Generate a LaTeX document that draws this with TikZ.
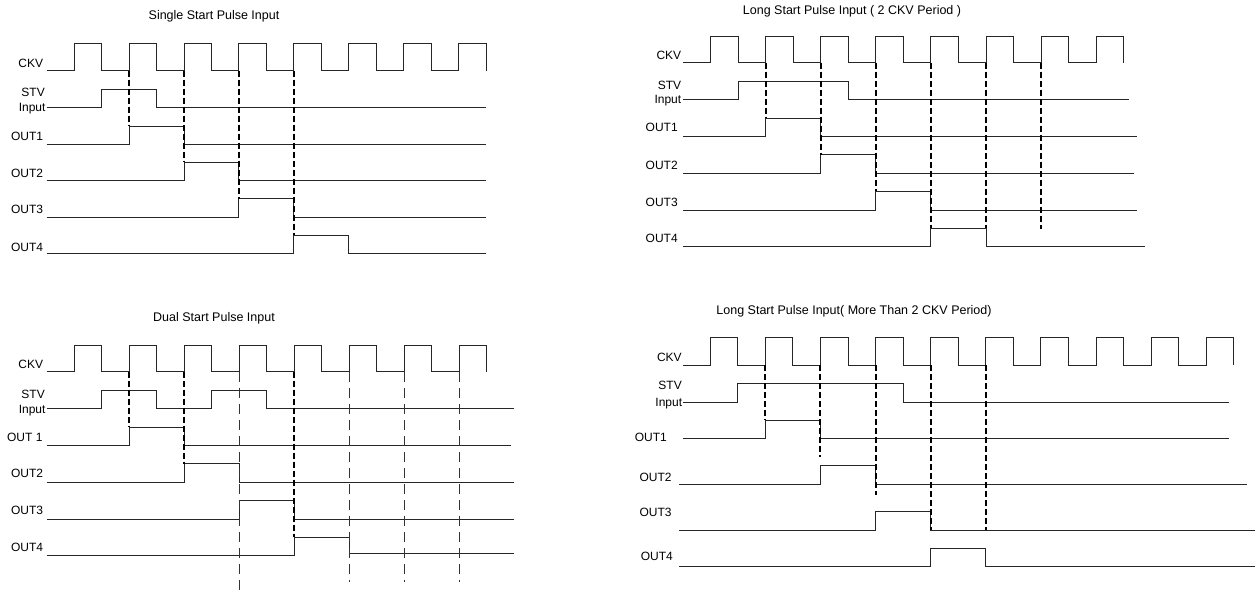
\documentclass[tikz,border=0pt]{standalone}
\usepackage{fontspec}
\setmainfont{Liberation Sans}
\begin{document}
\begin{tikzpicture}[x=1pt,y=-1pt,
  senal/.style={line width=0.9pt, black!85},
  guia/.style={line width=2pt, dash pattern=on 6pt off 3pt},
  guiafina/.style={line width=0.8pt, black!80, dash pattern=on 10pt off 6pt},
  etiq/.style={anchor=east, inner sep=0pt, text height=8.6pt, text depth=0pt,
    font=\fontsize{12}{14}\selectfont},
  titulo/.style={inner sep=0pt, text height=8.6pt, text depth=0pt,
    font=\fontsize{12.5}{14}\selectfont}]

\useasboundingbox (0,0) rectangle (1255,595);

% Títulos
\node[titulo] (tit1) at (214,15) {Single Start Pulse Input};
\node[titulo] (tit2) at (852,10) {Long Start Pulse Input ( 2 CKV Period )};
\node[titulo] (tit3) at (214,317.3) {Dual Start Pulse Input};
\node[titulo] (tit4) at (854,310) {Long Start Pulse Input( More Than 2 CKV Period)};

% Panel 1: pulso simple
\begin{scope}[shift={(46.7pt,-70.7pt)}, x=27.46pt]
\node[etiq, xshift=-3.4pt] (ckvA) at (0,-7.7) {CKV};
\node[etiq, xshift=-1.7pt] (stvA) at (0,21.3) {STV};
\node[etiq, xshift=-1pt] (inpA) at (0,36.3) {Input};
\node[etiq, xshift=-3.4pt] (outA1) at (0,65.3) {OUT1};
\node[etiq, xshift=-3.4pt] (outA2) at (0,102) {OUT2};
\node[etiq, xshift=-3.4pt] (outA3) at (0,138.3) {OUT3};
\node[etiq, xshift=-3.4pt] (outA4) at (0,176) {OUT4};
\draw[senal] (0,0) \foreach \k in {1,3,...,15} {-- (\k,0) -- (\k,-27.4) -- (\k+1,-27.4) -- (\k+1,0)};
\draw[senal] (0,36.6) -- (2,36.6) -- (2,18.6) -- (4,18.6) -- (4,36.6) -- (16,36.6);
\draw[senal] (0,73.3) -- (3,73.3) -- (3,55.3) -- (5,55.3) -- (5,73.3) -- (16,73.3);
\draw[senal] (0,109.6) -- (5,109.6) -- (5,91.6) -- (7,91.6) -- (7,109.6) -- (16,109.6);
\draw[senal] (0,146.3) -- (7,146.3) -- (7,128) -- (9,128) -- (9,146.3) -- (16,146.3);
\draw[senal] (0,182.6) -- (9,182.6) -- (9,164.3) -- (11,164.3) -- (11,182.6) -- (16,182.6);
\draw[guia] (3,0) -- (3,55.3);
\draw[guia] (5,0) -- (5,91.6);
\draw[guia] (7,0) -- (7,128);
\draw[guia] (9,0) -- (9,164.3);
\end{scope}

% Panel 2: pulso largo (2 periodos)
\begin{scope}[shift={(682.9pt,-62.7pt)}, x=27.55pt]
\node[etiq, xshift=-1.5pt] (ckvB) at (0,-7.7) {CKV};
\node[etiq, xshift=-1.5pt] (stvB) at (0,22.3) {STV};
\node[etiq, xshift=-1.5pt] (inpB) at (0,36.6) {Input};
\node[etiq, xshift=-5pt] (outB1) at (0,64.6) {OUT1};
\node[etiq, xshift=-5pt] (outB2) at (0,102) {OUT2};
\node[etiq, xshift=-5pt] (outB3) at (0,139) {OUT3};
\node[etiq, xshift=-5pt] (outB4) at (0,175.6) {OUT4};
\draw[senal] (0,0) \foreach \k in {1,3,...,15} {-- (\k,0) -- (\k,-26.7) -- (\k+1,-26.7) -- (\k+1,0)};
\draw[senal] (0,36.6) -- (2,36.6) -- (2,18.6) -- (6,18.6) -- (6,36.6) -- (16.18,36.6);
\draw[senal] (0,73.6) -- (3,73.6) -- (3,55.3) -- (5,55.3) -- (5,73.6) -- (16.5,73.6);
\draw[senal] (0,110.3) -- (5,110.3) -- (5,92) -- (7,92) -- (7,110.3) -- (16.37,110.3);
\draw[senal] (0,147.3) -- (7,147.3) -- (7,128.6) -- (9,128.6) -- (9,147.3) -- (16.5,147.3);
\draw[senal] (0,184) -- (9,184) -- (9,165.6) -- (11,165.6) -- (11,184) -- (16.79,184);
\draw[guia] (3,0) -- (3,55.3);
\draw[guia] (5,0) -- (5,92);
\draw[guia] (7,0) -- (7,128.6);
\draw[guia] (9,0) -- (9,165.6);
\draw[guia] (11,0) -- (11,165.6);
\draw[guia] (13,0) -- (13,166.6);
\end{scope}

% Panel 3: pulso doble
\begin{scope}[shift={(46.7pt,-371.7pt)}, x=27.5pt]
\node[etiq, xshift=-3.4pt] (ckvC) at (0,-7.7) {CKV};
\node[etiq, xshift=-1.7pt] (stvC) at (0,22.3) {STV};
\node[etiq, xshift=-1pt] (inpC) at (0,37.3) {Input};
\node[etiq, xshift=-4pt] (outC1) at (0,65) {OUT 1};
\node[etiq, xshift=-3.4pt] (outC2) at (0,101.6) {OUT2};
\node[etiq, xshift=-3.4pt] (outC3) at (0,138.3) {OUT3};
\node[etiq, xshift=-3.4pt] (outC4) at (0,175) {OUT4};
\draw[senal] (0,0) \foreach \k in {1,3,...,15} {-- (\k,0) -- (\k,-26.7) -- (\k+1,-26.7) -- (\k+1,0)};
\draw[senal] (0,36.6) -- (2,36.6) -- (2,18.6) -- (4,18.6) -- (4,36.6) -- (6,36.6) -- (6,18.6) -- (8,18.6) -- (8,36.6) -- (17,36.6);
\draw[senal] (0,74) -- (3,74) -- (3,55.6) -- (5,55.6) -- (5,74) -- (16.87,74);
\draw[senal] (0,110.6) -- (5,110.6) -- (5,92) -- (7,92) -- (7,110.6) -- (17,110.6);
\draw[senal] (0,147.3) -- (7,147.3) -- (7,128.6) -- (9,128.6) -- (9,147.3) -- (17,147.3);
\draw[senal] (0,183.3) -- (9,183.3) -- (9,165.3) -- (11,165.3) -- (11,182) -- (17,182);
\draw[guia] (3,0) -- (3,55.6);
\draw[guia] (5,0) -- (5,92);
\draw[guia] (9,0) -- (9,165.3);
\draw[guiafina] (7,0) -- (7,223.3);
\foreach \k in {11,13,15}
  \draw[guiafina] (\k,0) -- (\k,210);
\end{scope}

% Panel 4: pulso largo (más de 2 periodos)
\begin{scope}[shift={(682.7pt,-365.3pt)}, x=27.55pt]
\node[etiq, xshift=-0.8pt] (ckvD) at (0,-8.6) {CKV};
\node[etiq, xshift=-0.7pt] (stvD) at (0,19.7) {STV};
\node[etiq, xshift=-0.4pt] (inpD) at (0,37) {Input};
\node[etiq, xshift=-15.7pt] (outD1) at (0,72) {OUT1};
\node[etiq, xshift=-10.9pt] (outD2) at (0,111.4) {OUT2};
\node[etiq, xshift=-10.9pt] (outD3) at (0,147) {OUT3};
\node[etiq, xshift=-9.7pt] (outD4) at (0,190.4) {OUT4};
\draw[senal] (0,0) \foreach \k in {1,3,...,19} {-- (\k,0) -- (\k,-27.6) -- (\k+1,-27.6) -- (\k+1,0)};
\draw[senal] (0,36.7) -- (2,36.7) -- (2,18) -- (8,18) -- (8,36.7) -- (19.83,36.7);
\draw[senal] (0,73) -- (3,73) -- (3,55) -- (5,55) -- (5,73) -- (19.83,73);
\draw[senal] (-0.12,118.7) -- (5,118.7) -- (5,100.4) -- (7,100.4) -- (7,118.7) -- (20.5,118.7);
\draw[senal] (-0.12,164.7) -- (7,164.7) -- (7,146.4) -- (9,146.4) -- (9,164.7) -- (20.77,164.7);
\draw[senal] (-0.12,200.7) -- (9,200.7) -- (9,183) -- (11,183) -- (11,200.7) -- (20.77,200.7);
\draw[guia] (3,0) -- (3,55);
\draw[guia] (5,0) -- (5,92);
\draw[guia] (7,0) -- (7,129.7);
\draw[guia] (9,0) -- (9,164.7);
\draw[guia] (11,0) -- (11,164.7);
\end{scope}

\end{tikzpicture}
\end{document}
